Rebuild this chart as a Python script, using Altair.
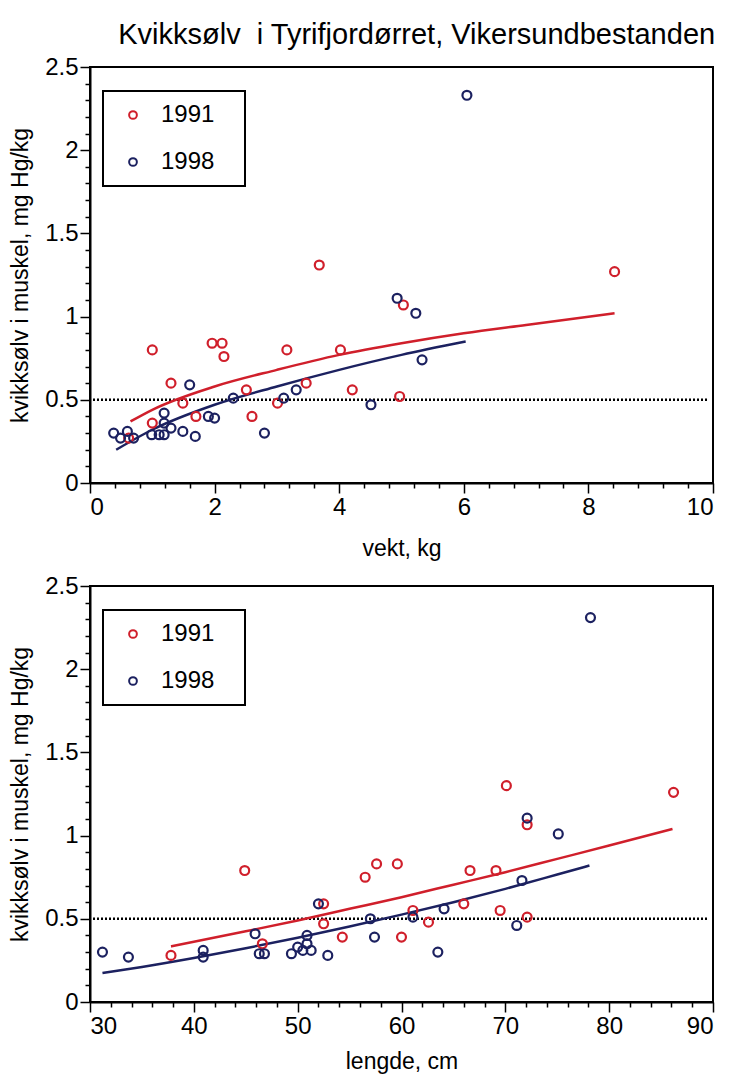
import altair as alt
import pandas as pd

TITLE = "Kvikksølv\u00a0 i Tyrifjordørret, Vikersundbestanden"
YEARS = ["1991", "1998"]
LIMIT = 0.5

# ---- top panel: weight (kg) ----
w91_x = [0.62, 1.00, 1.00, 1.30, 1.49, 1.70, 1.96, 2.12, 2.15, 2.51, 2.60, 3.01, 3.16, 3.47, 3.68, 4.02, 4.21, 4.97, 5.03, 8.42]
w91_y = [0.27, 0.80, 0.36, 0.60, 0.48, 0.40, 0.84, 0.84, 0.76, 0.56, 0.40, 0.48, 0.80, 0.60, 1.31, 0.80, 0.56, 0.52, 1.07, 1.27]
w98_x = [0.38, 0.49, 0.60, 0.70, 0.99, 1.11, 1.19, 1.19, 1.19, 1.30, 1.49, 1.60, 1.69, 1.90, 2.00, 2.30, 2.80, 3.11, 3.31, 4.51, 4.93, 5.23, 5.33, 6.05]
w98_y = [0.30, 0.27, 0.31, 0.27, 0.29, 0.29, 0.42, 0.36, 0.29, 0.33, 0.31, 0.59, 0.28, 0.40, 0.39, 0.51, 0.30, 0.51, 0.56, 0.47, 1.11, 1.02, 0.74, 2.33]
wfit91_x = [0.65, 1.0, 2.0, 3.0, 4.0, 5.0, 6.0, 7.0, 8.42]
wfit91_y = [0.37, 0.44, 0.58, 0.68, 0.77, 0.84, 0.90, 0.95, 1.02]
wfit98_x = [0.42, 1.0, 2.0, 3.0, 4.0, 5.0, 6.03]
wfit98_y = [0.20, 0.32, 0.47, 0.58, 0.68, 0.77, 0.85]

# ---- bottom panel: length (cm) ----
l91_x = [37.8, 44.9, 46.6, 52.5, 52.5, 54.3, 56.5, 57.6, 59.6, 60.0, 61.1, 62.6, 66.0, 66.6, 69.1, 69.5, 70.1, 72.1, 72.1, 86.2]
l91_y = [0.28, 0.79, 0.35, 0.59, 0.47, 0.39, 0.75, 0.83, 0.83, 0.39, 0.55, 0.48, 0.59, 0.79, 0.79, 0.55, 1.30, 1.065, 0.51, 1.26]
l98_x = [31.2, 33.7, 40.9, 40.9, 45.9, 46.3, 46.8, 49.4, 50.0, 50.9, 50.9, 50.5, 51.3, 52.0, 52.9, 57.0, 57.4, 61.1, 63.5, 64.1, 71.1, 71.6, 72.1, 75.1, 78.2]
l98_y = [0.30, 0.27, 0.31, 0.27, 0.41, 0.29, 0.29, 0.29, 0.33, 0.40, 0.35, 0.31, 0.31, 0.59, 0.28, 0.50, 0.39, 0.51, 0.30, 0.56, 0.46, 0.73, 1.105, 1.01, 2.31]
lfit91_x = [37.8, 45, 50, 55, 60, 65, 70, 75, 80, 86.1]
lfit91_y = [0.334, 0.425, 0.49, 0.56, 0.63, 0.705, 0.78, 0.86, 0.94, 1.04]
lfit98_x = [31.2, 35, 40, 45, 50, 55, 60, 65, 70, 75, 78.1]
lfit98_y = [0.174, 0.211, 0.265, 0.323, 0.386, 0.454, 0.525, 0.60, 0.68, 0.766, 0.82]

# axis tick positions (major + minor)
y_ticks = [round(i * 0.1, 1) for i in range(26)]
wx_ticks = [round(i * 0.4, 1) for i in range(26)]
lx_ticks = [30 + 2 * i for i in range(31)]

RED = "#d01f2b"
NAVY = "#1c2160"
FONT = "Liberation Sans"
W, H = 623, 416


def long(x91, y91, x98, y98):
    return pd.DataFrame({
        "x": list(x91) + list(x98),
        "y": list(y91) + list(y98),
        "year": [YEARS[0]] * len(x91) + [YEARS[1]] * len(x98),
    })


def major(step):
    return f"abs(datum.value/{step} - round(datum.value/{step})) < 1e-6"


def panel(pts, fits, xdomain, xticks, xstep, xtitle, xtitle_pad):
    color_scale = alt.Scale(domain=YEARS, range=[RED, NAVY])
    x = alt.X("x:Q", scale=alt.Scale(domain=xdomain, nice=False, zero=False),
              axis=alt.Axis(values=xticks, title=xtitle,
                            tickSize={"condition": {"test": major(xstep), "value": 10}, "value": 5},
                            labelExpr=f"{major(xstep)} ? '' + datum.value : ''",
                            labelOverlap=False, titlePadding=xtitle_pad))
    y = alt.Y("y:Q", scale=alt.Scale(domain=[0, 2.5], nice=False),
              axis=alt.Axis(values=y_ticks, title="kvikksølv i muskel, mg Hg/kg",
                            tickSize={"condition": {"test": major(0.5), "value": 10}, "value": 5},
                            labelExpr=f"{major(0.5)} ? '' + datum.value : ''",
                            labelOverlap=False, titlePadding=12))
    rule = alt.Chart(pd.DataFrame({"y": [LIMIT]})).mark_rule(
        color="black", strokeDash=[2, 2], strokeWidth=2.5
    ).encode(y=y, x=alt.value(3), x2=alt.value(W - 4))
    lines = alt.Chart(fits).mark_line(strokeWidth=2.5, interpolate="monotone").encode(
        x=x, y=y, stroke=alt.Stroke("year:N", scale=color_scale, legend=None), detail="year:N")
    points = alt.Chart(pts).mark_point(shape="circle", filled=False, size=80,
                                       strokeWidth=2.2, opacity=1).encode(
        x=x, y=y,
        color=alt.Color("year:N", scale=color_scale,
                        legend=alt.Legend(title=None, orient="none", legendX=13, legendY=24,
                                          strokeColor="black", fillColor="white", padding=12,
                                          symbolOffset=6, labelOffset=16, rowPadding=23,
                                          labelFontSize=24, labelFont=FONT, labelColor="black",
                                          symbolSize=60, symbolStrokeWidth=2, symbolType="circle",
                                          labelExpr="datum.label + '\u2800'")))
    return alt.layer(rule, lines, points).properties(width=W, height=H)


top = panel(long(w91_x, w91_y, w98_x, w98_y), long(wfit91_x, wfit91_y, wfit98_x, wfit98_y),
            [0, 10], wx_ticks, 2, "vekt, kg", 18)
bottom = panel(long(l91_x, l91_y, l98_x, l98_y), long(lfit91_x, lfit91_y, lfit98_x, lfit98_y),
               [30, 90], lx_ticks, 10, "lengde, cm", 12)

chart = alt.vconcat(top, bottom, spacing=12).resolve_legend(color="independent").properties(
    title=alt.TitleParams(TITLE, fontSize=29, font=FONT, fontWeight="normal", anchor="middle",
                          color="black", offset=4, dx=55),
    padding={"left": 0, "top": 13, "right": 0, "bottom": 0},
).configure_axis(
    labelFont=FONT, labelFontSize=24, labelColor="black", labelPadding=2, labelOverlap=False,
    titleFont=FONT, titleFontSize=23, titleFontWeight="normal", titleColor="black",
    domainColor="black", domainWidth=2, tickColor="black", tickWidth=1.5, grid=False,
).configure_legend(strokeWidth=2).configure_view(stroke="black", strokeWidth=2)

chart.save("out.html", embed_options={"renderer": "svg", "actions": False})
